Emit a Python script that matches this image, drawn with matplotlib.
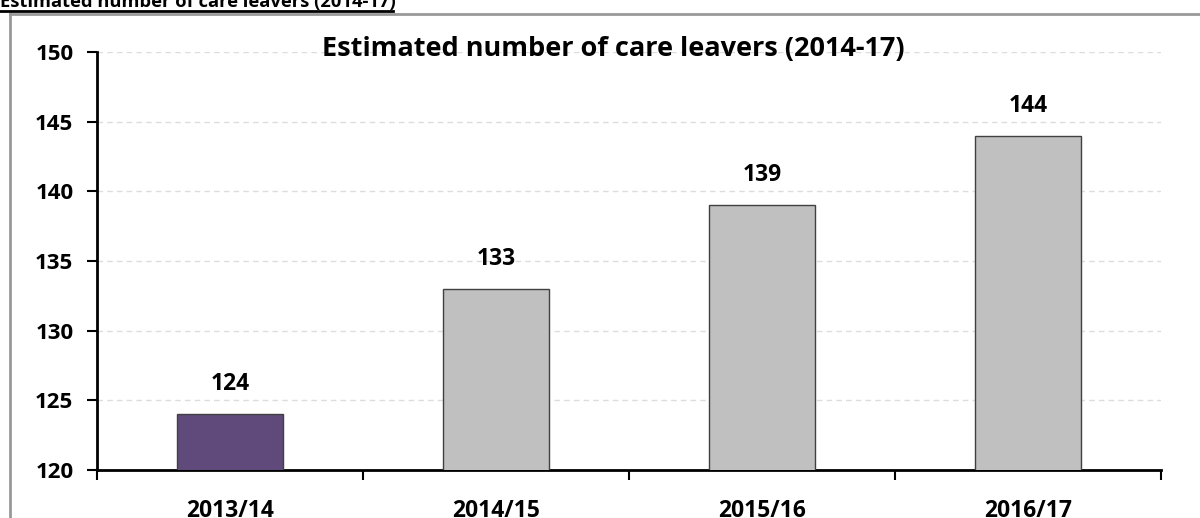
import matplotlib
matplotlib.use("Agg")
import matplotlib.pyplot as plt
from matplotlib.lines import Line2D

categories = ["2013/14", "2014/15", "2015/16", "2016/17"]
values = [124, 133, 139, 144]
colors = ["#604A7B", "#C0C0C0", "#C0C0C0", "#C0C0C0"]
yticks = [120, 125, 130, 135, 140, 145, 150]
title = "Estimated number of care leavers (2014-17)"

plt.rcParams['font.family'] = ['Open Sans', 'DejaVu Sans']

fig = plt.figure(figsize=(12, 5.18), dpi=100)
W, H = 1200, 518

def fx(px):
    return px / W

def fy(py):
    return 1 - py / H

ax = fig.add_axes([fx(97), fy(470), fx(1161) - fx(97), fy(52) - fy(470)])

x = list(range(len(categories)))
ax.bar(x, values, width=0.4, color=colors, edgecolor="#404040", linewidth=1, zorder=3)
ax.set_xlim(-0.5, len(categories) - 0.5)
ax.set_ylim(120, 150)
ax.set_yticks(yticks)
ax.set_yticklabels([str(v) for v in yticks], fontsize=16, fontweight='bold')
ax.yaxis.grid(True, linestyle=(0, (4, 3)), color="#DDDDDD", linewidth=1, zorder=0)
ax.set_axisbelow(True)

for xi, v in zip(x, values):
    ax.annotate(str(v), (xi, v), xytext=(0, 13), textcoords='offset points',
                ha='center', va='bottom', fontsize=16.5, fontweight='bold')

ax.set_xticks([-0.5, 0.5, 1.5, 2.5, 3.5])
ax.set_xticklabels([])
ax.set_xticks(x, minor=True)
ax.set_xticklabels(categories, minor=True, fontsize=16.5, fontweight='bold')
ax.tick_params(axis='x', which='minor', length=0, pad=21)
ax.tick_params(axis='x', which='major', direction='out', length=7, width=1.5)
ax.tick_params(axis='y', direction='out', length=7, width=1.5, pad=10)

for s in ['top', 'right']:
    ax.spines[s].set_visible(False)
for s in ['left', 'bottom']:
    ax.spines[s].set_linewidth(2)

ax.text(fx(613), fy(49), title, transform=fig.transFigure, ha='center', va='center',
        fontsize=19.5, fontweight='bold')

fig.add_artist(Line2D([fx(10), 1.0], [fy(13.5), fy(13.5)], color="#999999", linewidth=2))
fig.add_artist(Line2D([fx(10), fx(10)], [fy(13.5), 0], color="#999999", linewidth=2))
fig.text(fx(0), fy(7), title, ha='left', va='baseline', fontsize=13.2, fontweight='bold')
fig.add_artist(Line2D([fx(0), fx(393)], [fy(10.5), fy(10.5)], color="black", linewidth=2))

fig.savefig("out.png", dpi=100)
